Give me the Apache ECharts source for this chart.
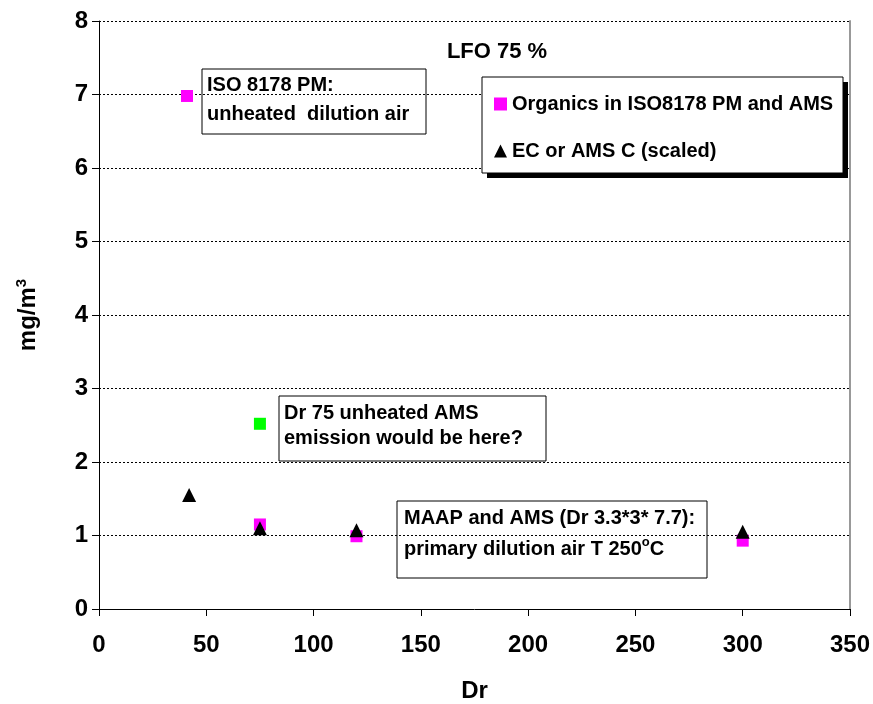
<!DOCTYPE html>
<html>
<head>
  <meta charset="utf-8">
  <title>LFO 75 %</title>
  <script src="https://cdn.jsdelivr.net/npm/echarts@6/dist/echarts.min.js"></script>
  <style>
    html, body { margin: 0; padding: 0; background: #fff; }
    #chart { width: 873px; height: 704px; }
  </style>
</head>
<body>
<div id="chart"></div>
<script>
  // data
  var xTicks = [0, 50, 100, 150, 200, 250, 300, 350];
  var yTicks = [0, 1, 2, 3, 4, 5, 6, 7, 8];
  var organicsX = [41, 75, 120, 300];
  var organicsY = [6.98, 1.15, 0.99, 0.93];
  var ecX = [42, 75, 120, 300];
  var ecY = [1.55, 1.10, 1.07, 1.05];
  var guessX = [75];
  var guessY = [2.52];

  function pairs(xs, ys) {
    var out = [];
    for (var i = 0; i < xs.length; i++) {
      out.push([xs[i], ys[i]]);
    }
    return out;
  }

  var FONT = 'Liberation Sans, Arial, sans-serif';

  // text box annotation: rect + two lines
  function noteBox(x, y, w, h, lines, lineY, textX) {
    var children = [{
      type: 'rect',
      shape: { x: x, y: y, width: w, height: h },
      style: { fill: '#fff', stroke: '#000', lineWidth: 1 }
    }];
    for (var i = 0; i < lines.length; i++) {
      children.push({
        type: 'text',
        style: {
          x: textX, y: lineY[i], text: lines[i].text, rich: lines[i].rich,
          fill: '#000', font: 'bold 20px ' + FONT, verticalAlign: 'middle'
        }
      });
    }
    return { type: 'group', z: 100, children: children };
  }

  var chart = echarts.init(document.getElementById('chart'));
  var option = {
    animation: false,
    backgroundColor: '#fff',
    textStyle: { fontFamily: FONT },
    grid: { left: 99, right: 23, top: 21, bottom: 95, outerBoundsMode: 'none' },
    legend: {
      left: 494, top: 94,
      orient: 'vertical',
      z: 120,
      data: [
        { name: 'Organics in ISO8178 PM and AMS', icon: 'rect' },
        { name: 'EC or AMS C (scaled)', icon: 'triangle' }
      ],
      itemWidth: 13, itemHeight: 13, itemGap: 27,
      padding: 0,
      textStyle: { fontSize: 20, fontWeight: 'bold', color: '#000', fontFamily: FONT }
    },
    xAxis: {
      type: 'value', min: 0, max: 350, interval: 50,
      name: 'Dr', nameLocation: 'middle', nameGap: 70,
      nameTextStyle: { fontSize: 24, fontWeight: 'bold', color: '#000' },
      axisLine: { lineStyle: { color: '#000', width: 1 } },
      axisTick: { show: true, inside: false, length: 7, lineStyle: { color: '#000' } },
      axisLabel: { fontSize: 24, fontWeight: 'bold', color: '#000', margin: 24 },
      splitLine: { show: false }
    },
    yAxis: [{
      type: 'value', min: 0, max: 8, interval: 1,
      name: '{a|mg/m}{s|3}', nameLocation: 'middle', nameGap: 56, nameRotate: 90,
      nameTextStyle: {
        rich: {
          a: { fontSize: 24, fontWeight: 'bold', color: '#000', fontFamily: FONT },
          s: { fontSize: 15, fontWeight: 'bold', color: '#000', fontFamily: FONT, verticalAlign: 'top', padding: [0, 0, 14, 0] }
        }
      },
      axisLine: { show: true, lineStyle: { color: '#000', width: 1 } },
      axisTick: { show: true, inside: false, length: 7, lineStyle: { color: '#000' } },
      axisLabel: { fontSize: 24, fontWeight: 'bold', color: '#000', margin: 11 },
      splitLine: { show: true, lineStyle: { color: '#000', type: [2, 2], width: 1 } }
    }, {
      type: 'value', min: 0, max: 8, position: 'right',
      axisLine: { show: true, lineStyle: { color: '#999', width: 2 } },
      axisTick: { show: false }, axisLabel: { show: false }, splitLine: { show: false }
    }],
    series: [{
      name: 'Organics in ISO8178 PM and AMS',
      type: 'scatter', symbol: 'rect', symbolSize: 12,
      itemStyle: { color: '#ff00ff', opacity: 1 },
      data: pairs(organicsX, organicsY), z: 3
    }, {
      name: 'Dr 75 unheated',
      type: 'scatter', symbol: 'rect', symbolSize: 12,
      itemStyle: { color: '#00ff00', opacity: 1 },
      data: pairs(guessX, guessY), z: 3
    }, {
      name: 'EC or AMS C (scaled)',
      type: 'scatter', symbol: 'triangle', symbolSize: 14,
      itemStyle: { color: '#000', opacity: 1 },
      data: pairs(ecX, ecY), z: 4
    }],
    graphic: [
      {
        type: 'text', z: 100,
        style: { x: 497, y: 52, text: 'LFO 75 %', fill: '#000', font: 'bold 22px ' + FONT, align: 'center', verticalAlign: 'middle' }
      },
      // legend frame with hard shadow
      { type: 'rect', z: 99, shape: { x: 487, y: 82, width: 361, height: 96 }, style: { fill: '#000' } },
      { type: 'rect', z: 99, shape: { x: 482, y: 77, width: 361, height: 96 }, style: { fill: '#fff', stroke: '#000', lineWidth: 1 } },
      noteBox(202, 69, 224, 65,
        [{ text: 'ISO 8178 PM:' }, { text: 'unheated  dilution air' }], [85, 114], 207),
      noteBox(279, 396, 267, 65,
        [{ text: 'Dr 75 unheated AMS' }, { text: 'emission would be here?' }], [413, 438], 284),
      noteBox(397, 501, 310, 77,
        [{ text: 'MAAP and AMS (Dr 3.3*3* 7.7):' },
         { text: '{a|primary dilution air T 250}{s|o}{a|C}', rich: {
           a: { font: 'bold 20px ' + FONT, fill: '#000' },
           s: { font: 'bold 13px ' + FONT, fill: '#000', verticalAlign: 'top', padding: [0, 0, 14, 0] }
         } }], [518, 549], 404)
    ]
  };
  chart.setOption(option);
</script>
</body>
</html>
